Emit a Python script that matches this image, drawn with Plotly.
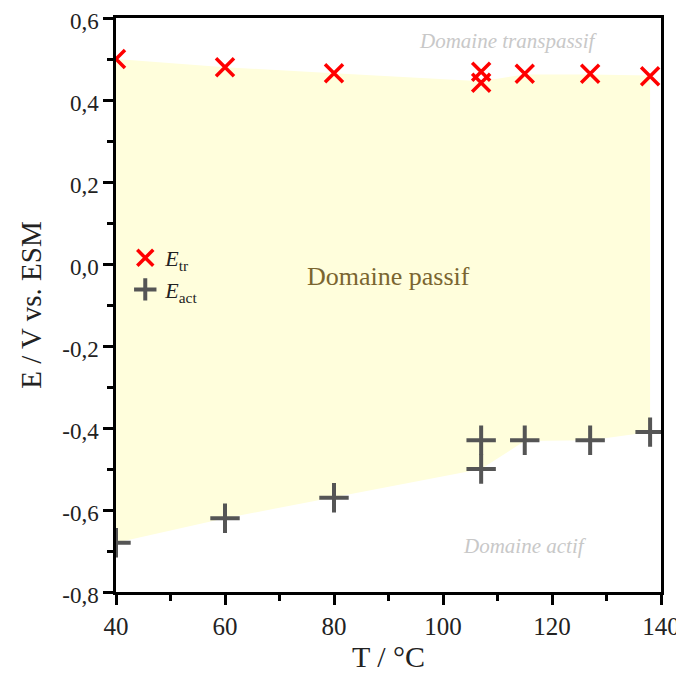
import plotly.graph_objects as go

# Data
T_tr = [40, 60, 80, 107, 107, 115, 127, 138]
E_tr = [0.50, 0.48, 0.465, 0.469, 0.442, 0.464, 0.464, 0.458]
T_act = [40, 60, 80, 107, 107, 115, 127, 138]
E_act = [-0.68, -0.62, -0.57, -0.43, -0.50, -0.43, -0.43, -0.41]

# Passive domain boundaries
fill_T = [40, 60, 80, 107, 115, 127, 138]
fill_upper = [0.50, 0.48, 0.465, 0.446, 0.462, 0.462, 0.46]
fill_lower = [-0.68, -0.62, -0.57, -0.50, -0.432, -0.43, -0.41]

font_family = "Liberation Serif"

fig = go.Figure()

# Filled passive region
fig.add_trace(go.Scatter(
    x=fill_T + fill_T[::-1],
    y=fill_upper + fill_lower[::-1],
    fill="toself", fillcolor="#FFFEDC",
    line=dict(width=0), mode="lines",
    hoverinfo="skip", showlegend=False,
))

fig.add_trace(go.Scatter(
    x=T_tr, y=E_tr, mode="markers",
    name="<i>E</i><sub>tr</sub>",
    marker=dict(symbol="x-thin", size=18, color="red",
                line=dict(color="red", width=3.5)),
))
fig.add_trace(go.Scatter(
    x=T_act, y=E_act, mode="markers",
    name="<i>E</i><sub>act</sub>",
    marker=dict(symbol="cross-thin", size=21, color="#555555",
                line=dict(color="#555555", width=4)),
))

fig.add_annotation(x=90, y=-0.03, text="Domaine passif", showarrow=False,
                   font=dict(family=font_family, size=26, color="#7A6530"))
fig.add_annotation(x=112, y=0.545, text="<i>Domaine transpassif</i>", showarrow=False,
                   font=dict(family=font_family, size=21, color="#C8C8C8"))
fig.add_annotation(x=115, y=-0.688, text="<i>Domaine actif</i>", showarrow=False,
                   font=dict(family=font_family, size=21, color="#C8C8C8"))

fig.update_layout(
    width=676, height=669,
    margin=dict(l=108, r=23, t=10, b=85, autoexpand=False),
    plot_bgcolor="white", paper_bgcolor="white",
    font=dict(family=font_family, size=20, color="#222"),
    legend=dict(x=0.017, y=0.554, xanchor="left", yanchor="middle",
                bgcolor="rgba(0,0,0,0)", font=dict(family=font_family, size=22),
                tracegroupgap=0),
    xaxis=dict(
        range=[40, 140], tickvals=[40, 60, 80, 100, 120, 140],
        showline=True, linecolor="black", linewidth=2.5, mirror=True,
        ticks="outside", ticklen=10, tickwidth=2.5, tickcolor="black",
        minor=dict(dtick=10, tick0=40, ticks="outside", ticklen=6, tickwidth=2.5, tickcolor="black"),
        showgrid=False, zeroline=False, automargin=False, ticklabeloverflow="allow",
        title=dict(text="T / °C", font=dict(family=font_family, size=30), standoff=6),
        tickfont=dict(family=font_family, size=25),
    ),
    yaxis=dict(
        range=[-0.8, 0.6], tickvals=[-0.8, -0.6, -0.4, -0.2, 0.0, 0.2, 0.4, 0.6],
        ticktext=["-0,8", "-0,6", "-0,4", "-0,2", "0,0", "0,2", "0,4", "0,6"],
        showline=True, linecolor="black", linewidth=2.5, mirror=True,
        ticks="outside", ticklen=10, tickwidth=2.5, tickcolor="black",
        minor=dict(dtick=0.1, tick0=-0.8, ticks="outside", ticklen=6, tickwidth=2.5, tickcolor="black"),
        showgrid=False, zeroline=False, automargin=False, ticklabeloverflow="allow",
        ticklabelshift=3,
        title=dict(text="E / V vs. ESM", font=dict(family=font_family, size=29), standoff=13),
        tickfont=dict(family=font_family, size=23),
    ),
)

fig.write_html("out.html")
